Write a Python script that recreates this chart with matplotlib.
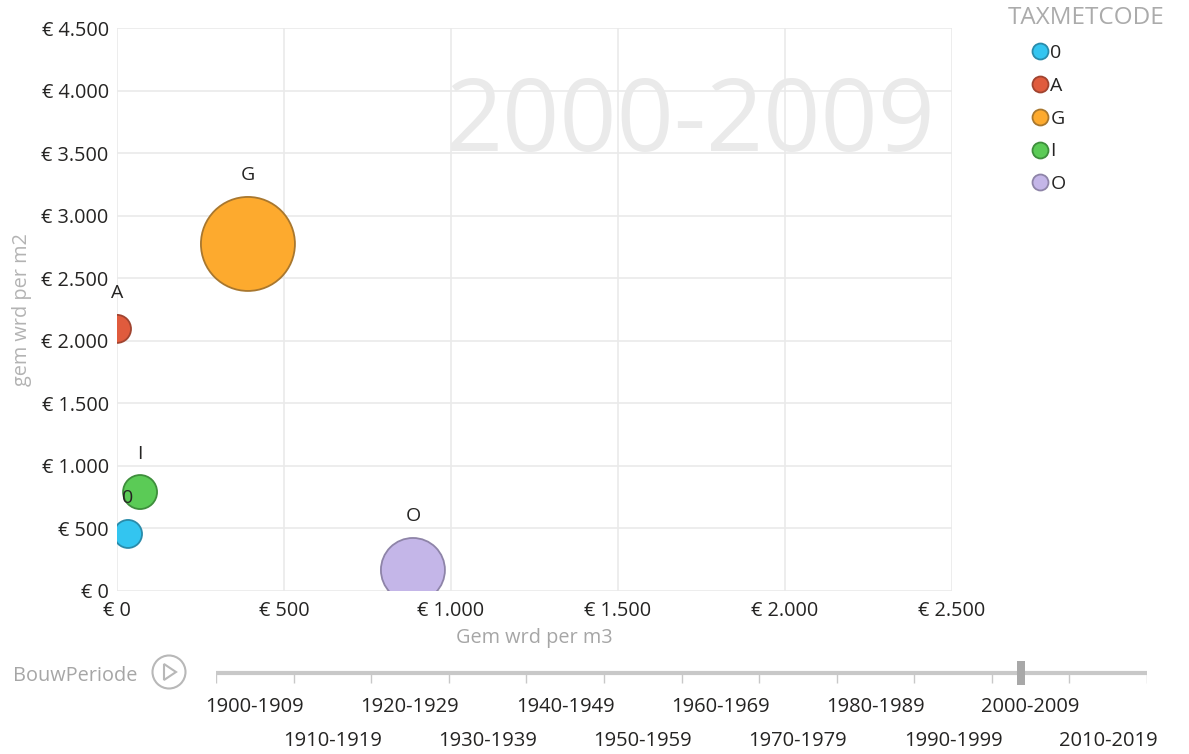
import matplotlib
matplotlib.use("Agg")
import matplotlib.pyplot as plt
from matplotlib.lines import Line2D
from matplotlib.patches import Circle, Polygon, Rectangle
from matplotlib.ticker import FuncFormatter
import numpy as np

plt.rcParams['font.family'] = ['Open Sans', 'DejaVu Sans']

# ---------------- data ----------------
categories = ["0", "A", "G", "I", "O"]
gem_wrd_per_m3 = [33, 0, 392, 69, 886]
gem_wrd_per_m2 = [456, 2095, 2774, 791, 168]
bubble_size = [196, 196, 2209, 289, 1024]
colors = ["#33C5F0", "#E05B3D", "#FDAA2E", "#5BCB56", "#C4B6E8"]
edge_colors = ["#2A8BAA", "#A04430", "#A8772E", "#3E8E3C", "#8E84A8"]

periods = ["1900-1909", "1910-1919", "1920-1929", "1930-1939", "1940-1949",
           "1950-1959", "1960-1969", "1970-1979", "1980-1989", "1990-1999",
           "2000-2009", "2010-2019"]
current_period = "2000-2009"

xticks = [0, 500, 1000, 1500, 2000, 2500]
yticks = [0, 500, 1000, 1500, 2000, 2500, 3000, 3500, 4000, 4500]

W, H = 1189, 754
fig = plt.figure(figsize=(W / 100, H / 100), dpi=100)

def fx(px):
    return px / W

def fy(py):
    return 1 - py / H

ax = fig.add_axes([fx(117), fy(591), fx(952) - fx(117), fy(28) - fy(591)])
ax.set_xlim(0, 2500)
ax.set_ylim(0, 4500)
ax.set_xticks(xticks)
ax.set_yticks(yticks)

def euro(v, pos=None):
    return "€ " + f"{v:,.0f}".replace(",", ".")

ax.xaxis.set_major_formatter(FuncFormatter(euro))
ax.yaxis.set_major_formatter(FuncFormatter(euro))
ax.tick_params(axis='both', length=0, labelsize=14.3, colors="#252423")
ax.tick_params(axis='x', pad=7)
ax.tick_params(axis='y', pad=6)
for s in ax.spines.values():
    s.set_visible(False)
ax.grid(True, color="#EAEAEA", linewidth=1.2)
ax.set_axisbelow(True)

ax.set_xlabel("Gem wrd per m3", color="#A6A6A6", fontsize=14.3, labelpad=5)
ax.set_ylabel("gem wrd per m2", color="#B3B3B3", fontsize=14.3, labelpad=7)

# watermark with current period
ax.text(0.98, 0.828, current_period, transform=ax.transAxes, ha='right', va='center',
        fontsize=72, color="#EAEAEA", zorder=0.5)

scale = (2 * 0.72) ** 2
s_vals = np.array(bubble_size) * scale
ax.scatter(gem_wrd_per_m3, gem_wrd_per_m2, s=s_vals, c=colors, edgecolors=edge_colors,
           linewidths=1.3, zorder=3, clip_on=True)
for x, y, s, lab in zip(gem_wrd_per_m3, gem_wrd_per_m2, s_vals, categories):
    r_pt = np.sqrt(s) / 2
    ax.annotate(lab, (x, y), xytext=(0, r_pt + 15.5), textcoords='offset points',
                ha='center', va='center', fontsize=14, color="#252423",
                annotation_clip=False, zorder=4)

# legend
fig.text(fx(1008), fy(18), "TAXMETCODE", color="#ABABAB", fontsize=17.5,
         ha='left', va='center')
handles = [Line2D([0], [0], marker='o', linestyle='none', markersize=11.5,
                  markerfacecolor=c, markeredgecolor=e, markeredgewidth=1.3)
           for c, e in zip(colors, edge_colors)]
leg = fig.legend(handles, categories, loc='upper left',
                 bbox_to_anchor=(fx(1026), fy(44)), frameon=False, fontsize=14,
                 handletextpad=-0.15, labelspacing=0.76, handlelength=1.4,
                 borderaxespad=0, borderpad=0)
for t in leg.get_texts():
    t.set_color("#252423")

# play axis
fig.text(fx(13), fy(676), "BouwPeriode", color="#A6A6A6", fontsize=14.3,
         ha='left', va='center')
pax = fig.add_axes([0, 0, 1, 1], facecolor='none')
pax.set_xlim(0, W)
pax.set_ylim(H, 0)
pax.axis('off')
pax.add_patch(Circle((169, 672), 16.5, fill=False, edgecolor="#B8B8B8", linewidth=1.5))
pax.add_patch(Polygon([[164, 664], [164, 680], [176, 672]], closed=True,
                      facecolor="none", edgecolor="#B8B8B8", linewidth=1.5))

sx0, sx1 = 216, 1147
sax = fig.add_axes([fx(sx0), fy(760), fx(sx1) - fx(sx0), fy(655) - fy(760)],
                   facecolor='none')
n = len(periods)
sax.set_xlim(0, n)
sax.set_ylim(1, 0)
sax.axis('off')
line_y = (673 - 655) / 105
sax.plot([0, n], [line_y, line_y], color="#C8C8C8", linewidth=3, solid_capstyle='butt')
sax.vlines(np.arange(n + 1), line_y, line_y + 10 / 105, color="#C8C8C8", linewidth=1)
for i, p in enumerate(periods):
    ypx = 707 if i % 2 == 0 else 741
    sax.text(i + 0.5, (ypx - 655) / 105, p, ha='center', va='center', fontsize=14.5,
             color="#252423")
idx = periods.index(current_period)
thumb_w = 8 / ((sx1 - sx0) / n)
sax.add_patch(Rectangle((idx + 0.38 - thumb_w / 2, (661 - 655) / 105), thumb_w, 24 / 105,
                        facecolor="#A8A8A8", edgecolor='none', zorder=5))

fig.savefig("out.png", dpi=100)
